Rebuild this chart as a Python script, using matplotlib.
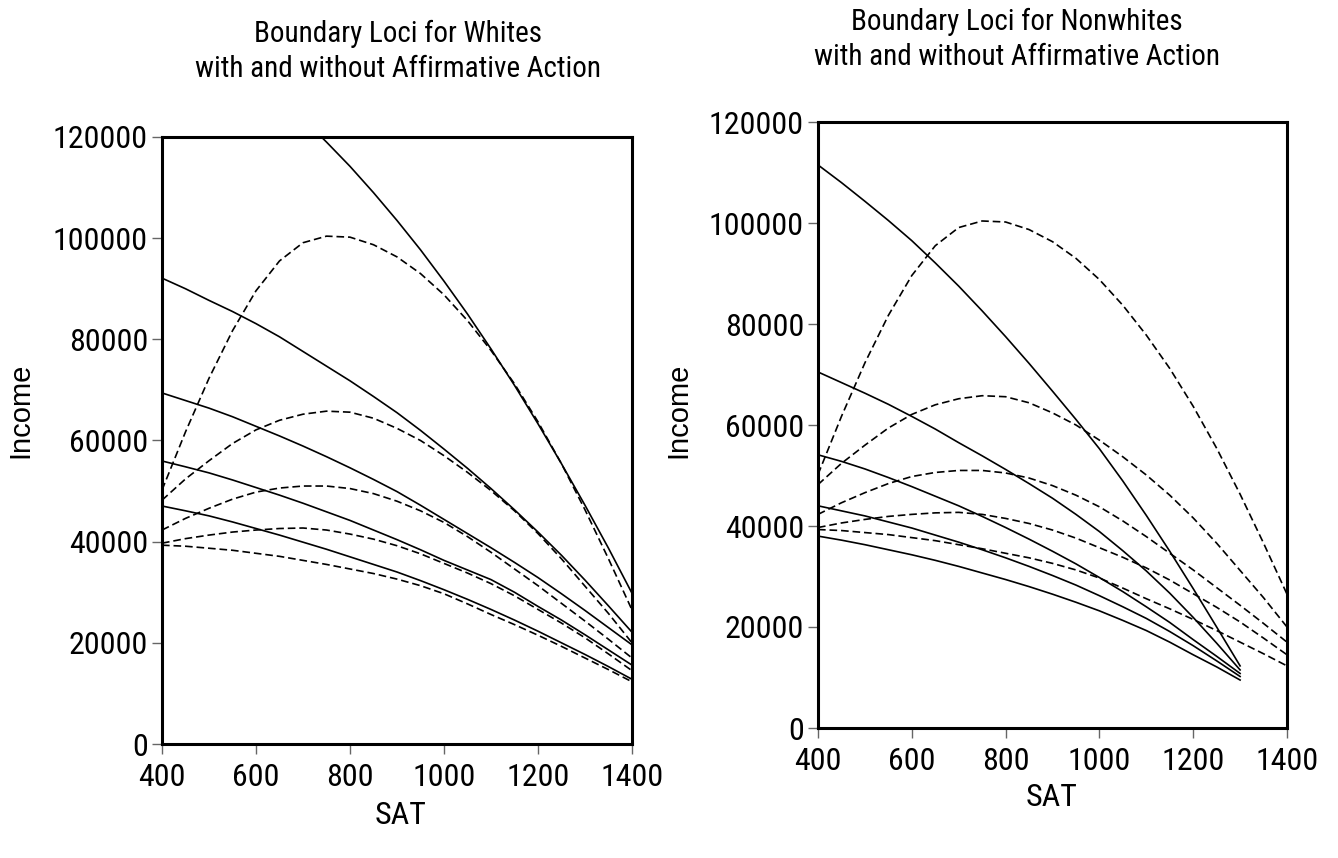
import numpy as np
import matplotlib
matplotlib.use("Agg")
import matplotlib.pyplot as plt
from matplotlib import font_manager
from matplotlib.font_manager import FontProperties

nan = np.nan

# SAT grid
sat = [400, 450, 500, 550, 600, 650, 700, 750, 800, 850, 900,
       950, 1000, 1050, 1100, 1150, 1200, 1250, 1300, 1350, 1400]

# Without affirmative action (dashed) - same loci in both panels
no_aa_1 = [50200, 61700, 72300, 81700, 89600, 95500, 99100, 100400, 100200, 98700, 96300,
           93000, 88800, 83700, 77800, 71200, 63700, 55400, 46300, 36600, 26500]
no_aa_2 = [48200, 52400, 56000, 59400, 62100, 64000, 65200, 65800, 65600, 64400, 62400,
           60000, 57000, 53700, 50100, 46100, 41600, 36600, 31200, 25800, 20000]
no_aa_3 = [42300, 44600, 46600, 48400, 49800, 50600, 51000, 51000, 50500, 49500, 48000,
           46100, 43800, 41000, 37900, 34600, 31300, 27800, 24300, 20700, 17000]
no_aa_4 = [39700, 40600, 41300, 41900, 42300, 42600, 42700, 42300, 41500, 40500, 39200,
           37600, 35700, 33800, 31700, 29300, 26600, 23900, 21000, 17800, 14500]
no_aa_5 = [39300, 39100, 38700, 38300, 37700, 37100, 36300, 35500, 34600, 33700, 32600,
           31300, 29700, 27700, 25600, 23600, 21500, 19300, 17000, 14700, 12300]

# Whites with affirmative action (solid)
white_aa_1 = [nan, nan, nan, nan, nan, nan, 123600, 119000, 114200, 109000, 103500,
              97700, 91500, 85000, 78100, 70900, 63300, 55400, 47200, 38700, 29800]
white_aa_2 = [92100, 90000, 87700, 85500, 83100, 80500, 77600, 74700, 71800, 68700, 65500,
              62000, 58300, 54500, 50500, 46300, 41900, 37300, 32400, 27300, 22100]
white_aa_3 = [69400, 67900, 66400, 64700, 62800, 60900, 58900, 56800, 54600, 52300, 49900,
              47200, 44400, 41600, 38800, 35900, 32900, 29700, 26400, 23000, 19600]
white_aa_4 = [55950, 54800, 53600, 52200, 50700, 49200, 47600, 45900, 44200, 42300, 40400,
              38400, 36300, 34400, 32500, 30000, 27200, 24500, 21600, 18600, 15600]
white_aa_5 = [47050, 46100, 45100, 43900, 42600, 41300, 39900, 38500, 37000, 35500, 34000,
              32300, 30500, 28600, 26600, 24500, 22300, 20000, 17700, 15300, 12800]

# Nonwhites with affirmative action (solid), defined up to SAT 1300
nonwhite_aa_1 = [111500, 108000, 104300, 100500, 96500, 92100, 87500, 82600, 77500, 72200, 66700,
                 61100, 55300, 48900, 42100, 35000, 27600, 20000, 12300, nan, nan]
nonwhite_aa_2 = [70500, 68400, 66300, 64100, 61700, 59200, 56500, 53900, 51200, 48400, 45500,
                 42300, 38900, 35100, 31100, 26700, 21900, 16800, 11500, nan, nan]
nonwhite_aa_3 = [54100, 52800, 51300, 49600, 47800, 45900, 44000, 41900, 39700, 37400, 35000,
                 32500, 29800, 27000, 24000, 20900, 17500, 14200, 10800, nan, nan]
nonwhite_aa_4 = [44000, 43000, 42000, 40800, 39600, 38200, 36800, 35300, 33700, 32000, 30200,
                 28300, 26200, 24000, 21700, 19100, 16300, 13300, 10200, nan, nan]
nonwhite_aa_5 = [38000, 37200, 36300, 35300, 34300, 33200, 32000, 30700, 29400, 28000, 26500,
                 24900, 23200, 21300, 19300, 17000, 14500, 12100, 9500, nan, nan]

xticks = [400, 600, 800, 1000, 1200, 1400]
yticks = [0, 20000, 40000, 60000, 80000, 100000, 120000]

titles = ["Boundary Loci for Whites\nwith and without Affirmative Action",
          "Boundary Loci for Nonwhites\nwith and without Affirmative Action"]


# ---- font selection: prefer a narrow sans (Arial Narrow look-alike) ----
def find_narrow():
    entries = font_manager.fontManager.ttflist
    prefs = ["Liberation Sans Narrow", "Arial Narrow", "Roboto Condensed", "Open Sans Condensed",
             "Noto Sans Condensed"]
    for p in prefs:
        for f in entries:
            if f.name == p and f.style == 'normal' and f.weight in (400, 'normal', 'regular'):
                return f.fname
    scored = []
    for f in entries:
        fn = f.fname.lower()
        if f.style != 'normal':
            continue
        if any(k in fn for k in ('bold', 'italic', 'oblique', 'mono', 'serif', 'cjk')):
            continue
        rank = None
        if 'narrow' in fn:
            rank = 0
        elif 'semicondensed' in fn and 'noto' in fn:
            rank = 3
        elif 'condensed' in fn and 'extra' not in fn and 'semi' not in fn:
            rank = 1 if any(k in fn for k in ('roboto', 'opensans', 'noto', 'lato')) else 2
        elif f.stretch in ('condensed', 'semi-condensed'):
            rank = 4
        if rank is not None and not any(k in fn for k in ('light', 'thin', 'medium', 'black',
                                                          'semibold')):
            scored.append((rank, f.fname))
    if scored:
        scored.sort()
        return scored[0][1]
    return None


narrow_path = find_narrow()


def fp(size):
    if narrow_path:
        return FontProperties(fname=narrow_path, size=size)
    return FontProperties(family='Liberation Sans', size=size * 0.9)


regular_fp = FontProperties(family='Liberation Sans', size=21)

plt.rcParams['lines.scale_dashes'] = False

W, H = 1338, 858
fig = plt.figure(figsize=(W / 100, H / 100), dpi=100)


def px_axes(l, t, r, b):
    return fig.add_axes([l / W, 1 - b / H, (r - l) / W, (b - t) / H])


axL = px_axes(162, 137, 632, 744)
axR = px_axes(818, 122, 1287, 728)

TICK_SIZE = 23
TITLE_SIZE = 21


def style(ax):
    ax.set_xlim(400, 1400)
    ax.set_ylim(0, 120000)
    ax.set_xticks(xticks)
    ax.set_yticks(yticks)
    ax.set_xticklabels([str(v) for v in xticks])
    ax.set_yticklabels([str(v) for v in yticks])
    for s in ax.spines.values():
        s.set_linewidth(2.2)
        s.set_color('black')
    ax.tick_params(direction='out', length=7, width=1.0, color='#666666',
                   labelcolor='black')
    ax.tick_params(axis='x', pad=7)
    ax.tick_params(axis='y', pad=3)
    for lbl in ax.get_xticklabels() + ax.get_yticklabels():
        lbl.set_fontproperties(fp(TICK_SIZE))


lw = 1.2
dash = (5.5, 2.8)
for ax, solids in ((axL, [white_aa_1, white_aa_2, white_aa_3, white_aa_4, white_aa_5]),
                   (axR, [nonwhite_aa_1, nonwhite_aa_2, nonwhite_aa_3, nonwhite_aa_4, nonwhite_aa_5])):
    style(ax)
    for d in [no_aa_1, no_aa_2, no_aa_3, no_aa_4, no_aa_5]:
        ax.plot(sat, d, color='black', lw=lw, linestyle=(0, dash))
    for s in solids:
        ax.plot(sat, s, color='black', lw=lw)

# Titles
fig.text(398 / W, 1 - 51 / H, titles[0], ha='center', va='center',
         fontproperties=fp(TITLE_SIZE), linespacing=1.32)
fig.text(1017 / W, 1 - 39 / H, titles[1], ha='center', va='center',
         fontproperties=fp(TITLE_SIZE), linespacing=1.32)

# Axis labels
fig.text(20 / W, 1 - 410 / H, "Income", rotation=90, ha='center', va='center',
         fontproperties=regular_fp)
fig.text(678 / W, 1 - 410 / H, "Income", rotation=90, ha='center', va='center',
         fontproperties=regular_fp)
fig.text(401 / W, 1 - 815 / H, "SAT", ha='center', va='center', fontproperties=fp(TICK_SIZE))
fig.text(1052 / W, 1 - 798 / H, "SAT", ha='center', va='center', fontproperties=fp(TICK_SIZE))

fig.savefig("out.png", dpi=100, facecolor='white')
